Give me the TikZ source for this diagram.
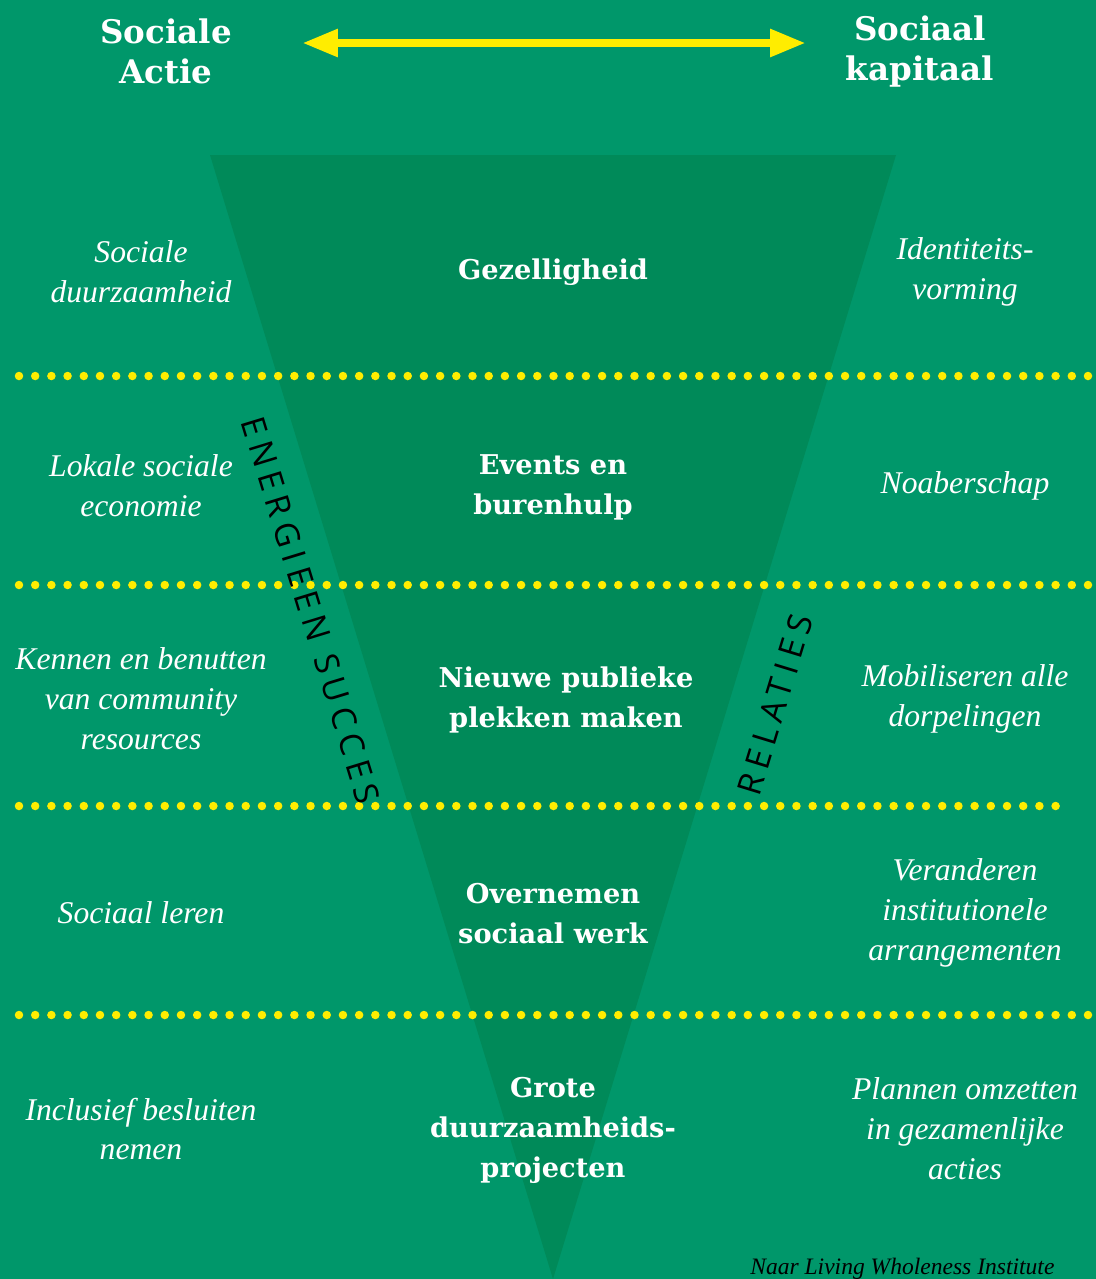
\documentclass[tikz,border=0pt]{standalone}
\usepackage{fontspec}
\setmainfont{Liberation Serif}
\newfontfamily\kopfont{DejaVu Serif}
\newfontfamily\randfont[LetterSpace=20]{Open Sans}
\usetikzlibrary{positioning}
\usetikzlibrary {arrows.meta}
\definecolor{veld}{RGB}{0,151,106}
\definecolor{trechter}{RGB}{0,138,89}
\definecolor{geel}{RGB}{255,237,0}
\tikzset{kop/.style={text=white,align=center,inner sep=0pt,
font=\kopfont\bfseries\fontsize{18.5}{22.76}\selectfont}}
\tikzset{midden/.style={text=white,align=center,inner sep=0pt,
font=\kopfont\bfseries\fontsize{15.5}{22.76}\selectfont}}
\tikzset{kolom/.style={text=white,align=center,inner sep=0pt,
font=\itshape\fontsize{18}{22.76}\selectfont}}
\tikzset{rand/.style={text=black,inner sep=0pt,
font=\randfont\fontsize{19}{22}\selectfont}}
\tikzset{stippel/.style={draw=geel,line width=0.17cm,line cap=round,
dash pattern=on 0pt off 0.324cm}}

\begin{document}
\begin{tikzpicture}[x=0.02cm,y=-0.02cm]

    \fill[veld] (0,0) rectangle (1096,1279);
    \useasboundingbox (0,0) rectangle (1096,1279);
    \fill[trechter] (210,155) -- (896,155) -- (553,1279) -- cycle;

    % scheidingslijnen
    \draw[stippel] (19,376) -- (1096,376);
    \draw[stippel] (19,585) -- (1096,585);
    \draw[stippel] (19,806) -- (1070,806);
    \draw[stippel] (19,1015) -- (1096,1015);

    \node[kop] (actie) at (166,51) {Sociale\\Actie};
    \node[kop] (kapitaal) at (920,52) {Sociaal\\kapitaal};
    \coordinate (pijlL) at (302,43);
    \coordinate (pijlR) at (806,43);
    \draw [draw=geel,line width=0.17cm,{Triangle[length=0.72cm,width=0.52cm]}-{Triangle[length=0.72cm,width=0.52cm]}] (pijlL) -- (pijlR);

    \node[midden] (middenA) at (553,272) {Gezelligheid};
    \node[midden] (middenB) at (553,487) {Events en\\burenhulp};
    \node[midden] (middenC) at (566,700) {Nieuwe publieke\\plekken maken};
    \node[midden] (middenD) at (553,914) {Overnemen\\sociaal werk};
    \node[midden] (middenE) at (553,1130) {Grote\\duurzaamheids-\\projecten};

    \node[kolom] (linksA) at (141,272) {Sociale\\duurzaamheid};
    \node[kolom] (linksB) at (141,486) {Lokale sociale\\economie};
    \node[kolom] (linksC) at (141,699) {Kennen en benutten\\van community\\resources};
    \node[kolom] (linksD) at (141,913) {Sociaal leren};
    \node[kolom] (linksE) at (141,1129) {Inclusief besluiten\\nemen};

    \node[kolom] (rechtsA) at (965,272) {Identiteits-\\vorming};
    \node[kolom] (rechtsB) at (965,486) {Noaberschap};
    \node[kolom] (rechtsC) at (965,699) {Mobiliseren alle\\dorpelingen};
    \node[kolom] (rechtsD) at (965,913) {Veranderen\\institutionele\\arrangementen};
    \node[kolom] (rechtsE) at (965,1129) {Plannen omzetten\\in gezamenlijke\\acties};

    \node[rand,rotate=-73] (energie) at (311,610) {ENERGIEEN SUCCES};
    \node[rand,rotate=73] (relaties) at (775,705) {RELATIES};

    \node[anchor=base west,inner sep=0pt,text=black,
      font=\itshape\fontsize{13.4}{16}\selectfont] (bron) at (750,1274) {Naar Living Wholeness Institute};

\end{tikzpicture}
\end{document}
